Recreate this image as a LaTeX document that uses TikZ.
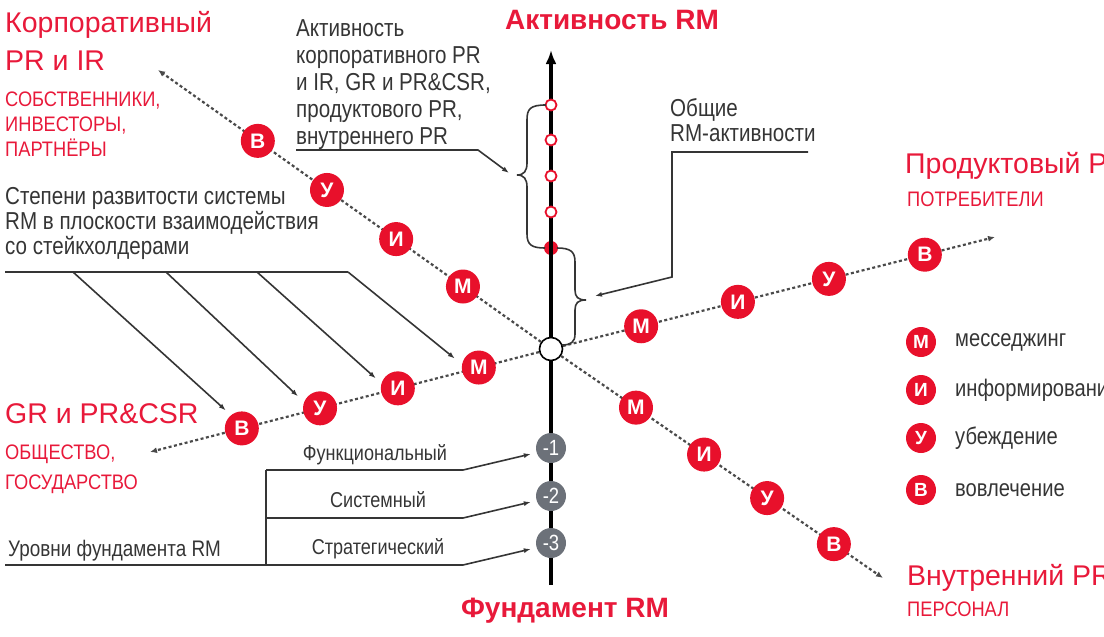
\documentclass[tikz,border=0pt]{standalone}
\usepackage{fontspec}
\setmainfont{Liberation Sans}
\newfontfamily\nar[FakeStretch=0.84]{Liberation Sans}
\newfontfamily\narc[FakeStretch=0.87]{Liberation Sans}
\usetikzlibrary{arrows.meta,calc}
\definecolor{rmred}{HTML}{E8102B}
\definecolor{ttl}{HTML}{E8193A}
\definecolor{ink}{HTML}{353535}
\definecolor{gcirc}{HTML}{6C7179}
\definecolor{dotc}{HTML}{4A4A4A}
\begin{document}
\begin{tikzpicture}[x=1pt,y=-1pt,
  big/.style={text=ttl, font=\fontsize{28.5}{30}\selectfont, anchor=base west, inner sep=0},
  capt/.style={text=ttl, font=\narc\fontsize{21}{22}\selectfont, anchor=base west, inner sep=0},
  lbl/.style={text=ink, font=\nar\fontsize{24.5}{26}\selectfont, anchor=base west, inner sep=0},
  sml/.style={text=ink, font=\nar\fontsize{21.5}{22}\selectfont, anchor=base, inner sep=0},
  axt/.style={text=ttl, font=\bfseries\fontsize{28}{30}\selectfont, anchor=base, inner sep=0},
  mk/.style={circle, fill=rmred, minimum size=34pt, inner sep=0, text=white, font=\bfseries\fontsize{21}{21}\selectfont},
  lg/.style={mk, minimum size=30pt, font=\bfseries\fontsize{19}{19}\selectfont},
  lgt/.style={text=ink, font=\nar\fontsize{24}{26}\selectfont, anchor=west, inner sep=0},
  ho/.style={circle, draw=rmred, fill=white, line width=1.8pt, minimum size=11pt, inner sep=0},
  gc/.style={circle, fill=gcirc, minimum size=30pt, inner sep=0, text=white, font=\nar\fontsize{22}{22}\selectfont},
  dotl/.style={draw=dotc, line width=2.2pt, dash pattern=on 3pt off 2.5pt, -{Latex[length=7pt,width=6pt]}},
  lead/.style={draw=ink, line width=1.6pt},
  leadar/.style={lead, -{Latex[length=7pt,width=5pt]}},
  axisl/.style={line width=3.6pt, -{Latex[length=14pt,width=11pt]}},
]
\useasboundingbox (0,0) rectangle (1104,637);
\clip (0,0) rectangle (1104,637);

% --- titles ---
\node[axt] (tAct) at (612,30) {Активность RM};
\node[axt] (tFund) at (565,617) {Фундамент RM};

\node[big] (k1) at (5,32) {Корпоративный};
\node[big] (k2) at (5,70) {PR и IR};
\node[capt] (k3) at (5,106) {СОБСТВЕННИКИ,};
\node[capt] (k4) at (5,131) {ИНВЕСТОРЫ,};
\node[capt] (k5) at (5,156) {ПАРТНЁРЫ};

\node[big] (p1) at (905,173) {Продуктовый PR};
\node[capt] (p2) at (907,206) {ПОТРЕБИТЕЛИ};

\node[big] (g1) at (5,423) {GR и PR\&CSR};
\node[capt] (g2) at (5,459) {ОБЩЕСТВО,};
\node[capt] (g3) at (5,489) {ГОСУДАРСТВО};

\node[big] (v1) at (907,585) {Внутренний PR};
\node[capt] (v2) at (907,616) {ПЕРСОНАЛ};

% --- labels ---
\node[lbl] (a1) at (296,36) {Активность};
\node[lbl] (a2) at (296,63) {корпоративного PR};
\node[lbl] (a3) at (296,90) {и IR, GR и PR\&CSR,};
\node[lbl] (a4) at (296,117) {продуктового PR,};
\node[lbl] (a5) at (296,144) {внутреннего PR};

\node[lbl] (o1) at (670,116) {Общие};
\node[lbl] (o2) at (670,141) {RM-активности};

\node[lbl] (s1) at (5,204) {Степени развитости системы};
\node[lbl] (s2) at (5,229) {RM в плоскости взаимодействия};
\node[lbl] (s3) at (5,254) {со стейкхолдерами};

\node[lbl, font=\nar\fontsize{22.5}{24}\selectfont] (u1) at (8,556) {Уровни фундамента RM};
\node[sml] (f1) at (375,460) {Функциональный};
\node[sml] (f2) at (378,507) {Системный};
\node[sml] (f3) at (378,554) {Стратегический};

% --- axis ---
\coordinate (axbot) at (551,585);
\coordinate (axtop) at (551,50);
\fill[rmred] (551,248) circle (7);
\draw[axisl] (axbot) -- (axtop);
\node[ho] (h1) at (551,105) {};
\node[ho] (h2) at (551,140) {};
\node[ho] (h3) at (551,176) {};
\node[ho] (h4) at (551,212) {};
\coordinate (hd) at (551,248);

\node[circle, draw=black, fill=white, line width=1.6pt, minimum size=23pt, inner sep=0] (c) at (551,349) {};

\node[gc] (n1) at (551,448) {-1};
\node[gc] (n2) at (551,496) {-2};
\node[gc] (n3) at (551,543) {-3};

% --- diagonal axes ---
\coordinate (eUL) at (158,70);
\coordinate (eL) at (150,452);
\coordinate (eR) at (995,237);
\coordinate (eDR) at (883,578);
\draw[dotl] (c) -- (eUL);
\draw[dotl] (c) -- (eL);
\draw[dotl] (c) -- (eR);
\draw[dotl] (c) -- (eDR);

\node[mk] (ulM) at ($(c.center)!0.224!(eUL)$) {М};
\node[mk] (ulI) at ($(c.center)!0.394!(eUL)$) {И};
\node[mk] (ulU) at ($(c.center)!0.570!(eUL)$) {У};
\node[mk] (ulV) at ($(c.center)!0.746!(eUL)$) {В};

\node[mk] (lM) at ($(c.center)!0.180!(eL)$) {М};
\node[mk] (lI) at ($(c.center)!0.382!(eL)$) {И};
\node[mk] (lU) at ($(c.center)!0.576!(eL)$) {У};
\node[mk] (lV) at ($(c.center)!0.771!(eL)$) {В};

\node[mk] (rM) at ($(c.center)!0.203!(eR)$) {М};
\node[mk] (rI) at ($(c.center)!0.421!(eR)$) {И};
\node[mk] (rU) at ($(c.center)!0.626!(eR)$) {У};
\node[mk] (rV) at ($(c.center)!0.842!(eR)$) {В};

\node[mk] (dM) at ($(c.center)!0.256!(eDR)$) {М};
\node[mk] (dI) at ($(c.center)!0.461!(eDR)$) {И};
\node[mk] (dU) at ($(c.center)!0.651!(eDR)$) {У};
\node[mk] (dV) at ($(c.center)!0.852!(eDR)$) {В};

% --- legend ---
\node[lg] (LM) at (921,342) {М};
\node[lg] (LI) at (921,390) {И};
\node[lg] (LU) at (921,438) {У};
\node[lg] (LV) at (921,490) {В};
\node[lgt] (LMt) at (955,342) {месседжинг};
\node[lgt] (LIt) at (955,390) {информирование};
\node[lgt] (LUt) at (955,438) {убеждение};
\node[lgt] (LVt) at (955,490) {вовлечение};

% --- braces ---
\draw[lead] (546,105) .. controls (530,105) and (527,109) .. (527,120) -- (527,163)
  .. controls (527,171) and (524,175) .. (517,175)
  .. controls (524,175) and (527,179) .. (527,187) -- (527,234)
  .. controls (527,245) and (532,248) .. (545,248);
\draw[lead] (557,248) .. controls (571,248) and (575,252) .. (575,262) -- (575,290)
  .. controls (575,297) and (578,300) .. (586,300)
  .. controls (578,300) and (575,303) .. (575,310) -- (575,334)
  .. controls (575,342) and (571,345) .. (562,345);

% --- leader lines ---
\coordinate (al1) at (296,150);
\coordinate (al2) at (478,150);
\coordinate (bt1) at (509,173);
\draw[leadar] (al1) -- (al2) -- (bt1);

\coordinate (ol1) at (808,152);
\coordinate (ol2) at (672,152);
\coordinate (ol3) at (672,277);
\coordinate (bt2) at (595,296);
\draw[leadar] (ol1) -- (ol2) -- (ol3) -- (bt2);

\coordinate (sl0) at (5,272);
\coordinate (sl4) at (348,272);
\coordinate (sa1) at (73,272);
\coordinate (sa2) at (166,272);
\coordinate (sa3) at (257,272);
\draw[lead] (sl0) -- (sl4);
\draw[leadar] (sl4) -- ($(lM)+(-24,-9)$);
\draw[leadar] (sa3) -- ($(lI)+(-22,-10)$);
\draw[leadar] (sa2) -- ($(lU)+(-22,-12)$);
\draw[leadar] (sa1) -- ($(lV)+(-16,-18)$);

\coordinate (ub0) at (5,565);
\coordinate (ub1) at (463,565);
\coordinate (uv) at (266,470);
\coordinate (uv2) at (266,565);
\coordinate (fm1) at (463,470);
\coordinate (fm2) at (266,518);
\coordinate (fm3) at (463,518);
\draw[lead] (ub0) -- (ub1);
\draw[lead] (uv) -- (uv2);
\draw[lead] (uv) -- (fm1);
\draw[lead] (fm2) -- (fm3);
\draw[leadar] (fm1) -- ($(n1.west)+(-5,6)$);
\draw[leadar] (fm3) -- ($(n2.west)+(-5,6)$);
\draw[leadar] (ub1) -- ($(n3.west)+(-5,6)$);
\end{tikzpicture}
\end{document}
